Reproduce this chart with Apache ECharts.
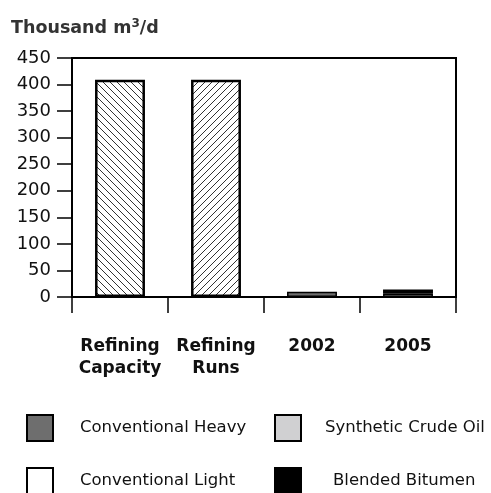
<!DOCTYPE html>
<html>
<head>
<meta charset="utf-8">
<script src="https://cdn.jsdelivr.net/npm/echarts@6/dist/echarts.min.js"></script>
<style>
  html, body { margin: 0; padding: 0; background: #fff; }
  #chart { width: 491px; height: 493px; }
</style>
</head>
<body>
<div id="chart"></div>
<script>
const categories = ['Refining\nCapacity', 'Refining\nRuns', '2002', '2005']
const refining = [409, 409, null, null]
const conventionalLight = [null, null, null, 6]
const conventionalHeavy = [null, null, 10, null]
const syntheticCrude = [null, null, null, null]
const blendedBitumen = [null, null, null, 8]
const yTicks = { min: 0, max: 450, interval: 50 }

const FONT = 'DejaVu Sans'

// diagonal hatch, dir 1 = "\\", dir -1 = "/"
function hatch(dir) {
  const c = document.createElement('canvas')
  c.width = 7
  c.height = 7
  const ctx = c.getContext('2d')
  ctx.fillStyle = '#fff'
  ctx.fillRect(0, 0, 7, 7)
  ctx.strokeStyle = '#333'
  ctx.lineWidth = 1
  ctx.beginPath()
  if (dir > 0) {
    ctx.moveTo(-1, -1); ctx.lineTo(8, 8)
    ctx.moveTo(-8, -1); ctx.lineTo(1, 8)
    ctx.moveTo(6, -1); ctx.lineTo(15, 8)
  } else {
    ctx.moveTo(-1, 8); ctx.lineTo(8, -1)
    ctx.moveTo(-8, 8); ctx.lineTo(1, -1)
    ctx.moveTo(6, 8); ctx.lineTo(15, -1)
  }
  ctx.stroke()
  return c
}

const chart = echarts.init(document.getElementById('chart'))

const border = { borderColor: '#000', borderWidth: 2.5 }
const thinBorder = { borderColor: '#000', borderWidth: 1.5 }

function stackSeries(name, data, color) {
  return {
    name: name,
    type: 'bar',
    stack: 'total',
    barWidth: '52%',
    data: data,
    itemStyle: Object.assign({ color: color }, thinBorder)
  }
}

function legendAt(name, left, top, pad) {
  return {
    data: [name],
    left: left,
    top: top,
    padding: 0,
    itemWidth: 26,
    itemHeight: 26,
    selectedMode: false,
    icon: 'rect',
    itemStyle: { borderColor: '#000', borderWidth: 2 },
    textStyle: { fontFamily: FONT, fontSize: 16.5, color: '#111', padding: [0, 0, 0, pad] }
  }
}

const option = {
  animation: false,
  title: {
    text: 'Thousand m{sup|3}/d',
    left: 11,
    top: 18,
    padding: 0,
    textStyle: {
      fontFamily: FONT,
      fontSize: 17.5,
      fontWeight: 'bold',
      color: '#333',
      rich: {
        sup: { fontFamily: FONT, fontSize: 12, fontWeight: 'bold', color: '#333', verticalAlign: 'top', padding: [0, 0, 9, 0] }
      }
    }
  },
  legend: [
    legendAt('Conventional Heavy', 26, 414, 22),
    legendAt('Synthetic Crude Oil', 274, 414, 19),
    legendAt('Conventional Light', 26, 467, 22),
    legendAt('Blended Bitumen', 274, 467, 27)
  ],
  grid: {
    left: 72,
    right: 35,
    top: 58,
    bottom: 196,
    show: true,
    borderColor: '#000',
    borderWidth: 2
  },
  xAxis: {
    type: 'category',
    data: categories,
    axisLine: { lineStyle: { color: '#000', width: 2 } },
    axisTick: { show: true, alignWithLabel: false, length: 16, lineStyle: { color: '#000', width: 1.5 } },
    axisLabel: {
      margin: 39,
      fontFamily: FONT,
      fontSize: 17,
      fontWeight: 'bold',
      color: '#111',
      lineHeight: 22,
      interval: 0
    }
  },
  yAxis: {
    type: 'value',
    min: yTicks.min,
    max: yTicks.max,
    interval: yTicks.interval,
    splitLine: { show: false },
    axisLine: { show: true, lineStyle: { color: '#000', width: 2 } },
    axisTick: { show: true, length: 15, lineStyle: { color: '#000', width: 1.5 } },
    axisLabel: { margin: 21, fontFamily: FONT, fontSize: 18, color: '#111' }
  },
  series: [
    {
      name: 'Refining',
      type: 'bar',
      stack: 'total',
      barWidth: '52%',
      data: refining.map((v, i) => v == null ? null : {
        value: v,
        itemStyle: Object.assign({ color: { image: hatch(i === 0 ? 1 : -1), repeat: 'repeat' } }, border)
      }),
      itemStyle: border
    },
    stackSeries('Conventional Light', conventionalLight, '#ffffff'),
    stackSeries('Conventional Heavy', conventionalHeavy, '#6e6e6e'),
    stackSeries('Synthetic Crude Oil', syntheticCrude, '#d0d0d2'),
    stackSeries('Blended Bitumen', blendedBitumen, '#000000')
  ]
}

chart.setOption(option)
</script>
</body>
</html>
